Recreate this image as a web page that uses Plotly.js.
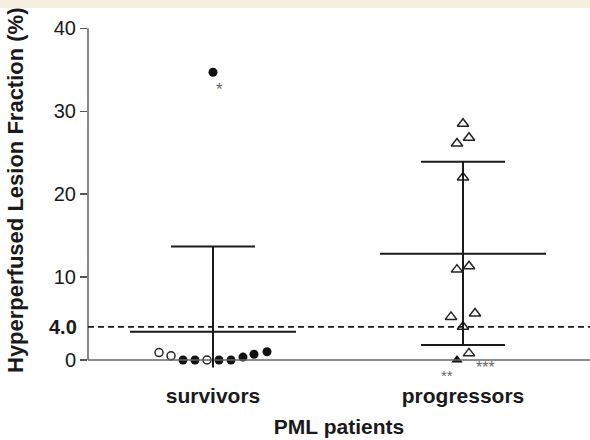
<!DOCTYPE html>
<html>
<head>
<meta charset="utf-8">
<script src="https://cdn.plot.ly/plotly-3.0.1.min.js"></script>
<style>
  html, body { margin: 0; padding: 0; background: #ffffff; }
  #band { position: absolute; left: 0; top: 0; width: 590px; height: 8px; background: #f5f0e1; z-index: 10; }
  #chart { width: 590px; height: 440px; }
</style>
</head>
<body>
<div id="band"></div>
<div id="chart"></div>
<script>
// ---- data ----
var groups = ["survivors", "progressors"];
var groupPos = [1, 2];

// survivors: filled circles (offset within group, value %)
var survFilledOffset = [-0.12, -0.072, 0.024, 0.072, 0.12, 0.164, 0.216, 0];
var survFilledValue  = [0, 0, 0, 0, 0.35, 0.7, 1.0, 34.7];
// survivors: open circles
var survOpenOffset = [-0.216, -0.168, -0.024];
var survOpenValue  = [0.9, 0.5, 0.0];

// progressors: open triangles
var progOpenOffset = [0, 0.024, -0.024, 0, -0.024, 0.024, -0.048, 0.048, 0, 0.024];
var progOpenValue  = [28.5, 26.8, 26.1, 22.0, 10.9, 11.3, 5.2, 5.6, 4.0, 0.8];
// progressors: filled triangle
var progFilledOffset = [-0.024];
var progFilledValue  = [0.0];

// group summary lines (mean, upper SD, lower SD)
var groupMean  = [3.4, 12.8];
var groupUpper = [13.7, 23.9];
var groupLower = [-0.9, 1.8];
var showLowerCap = [false, true];

var threshold = 4.0;
var yTicks = [0, 10, 20, 30, 40];

// ---- build ----
function place(center, offsets) { return offsets.map(function (o) { return center + o; }); }

var traces = [
  {
    type: "scatter", mode: "markers",
    x: place(groupPos[0], survOpenOffset), y: survOpenValue,
    marker: { symbol: "circle-open", size: 8, color: "#222", line: { width: 1.5, color: "#222" } },
    hoverinfo: "y", showlegend: false, cliponaxis: false
  },
  {
    type: "scatter", mode: "markers",
    x: place(groupPos[0], survFilledOffset), y: survFilledValue,
    marker: { symbol: "circle", size: 9, color: "#111" },
    hoverinfo: "y", showlegend: false, cliponaxis: false
  },
  {
    type: "scatter", mode: "markers",
    x: place(groupPos[1], progOpenOffset), y: progOpenValue,
    marker: { symbol: "triangle-up-open", size: 10, color: "#222", line: { width: 1.5, color: "#222" } },
    hoverinfo: "y", showlegend: false, cliponaxis: false
  },
  {
    type: "scatter", mode: "markers",
    x: place(groupPos[1], progFilledOffset), y: progFilledValue,
    marker: { symbol: "triangle-up", size: 10, color: "#111" },
    hoverinfo: "y", showlegend: false, cliponaxis: false
  }
];

var lineStyle = { color: "#1a1a1a", width: 2 };
var meanHalf = 0.332, capHalf = 0.168;
var shapes = [];

// y axis line (0..40), x axis line, threshold dashed line
shapes.push({ type: "line", xref: "paper", yref: "y", x0: 0, x1: 0, y0: yTicks[0], y1: yTicks[yTicks.length - 1], line: { color: "#555", width: 1.4 } });
shapes.push({ type: "line", xref: "paper", yref: "y", x0: 0, x1: 1, y0: 0, y1: 0, line: { color: "#666", width: 1.4 } });
shapes.push({ type: "line", xref: "paper", yref: "y", x0: 0, x1: 1, y0: threshold, y1: threshold, line: { color: "#1a1a1a", width: 1.8, dash: "6px,4px" } });

for (var i = 0; i < groups.length; i++) {
  var c = groupPos[i];
  shapes.push({ type: "line", xref: "x", yref: "y", x0: c - meanHalf, x1: c + meanHalf, y0: groupMean[i], y1: groupMean[i], line: lineStyle });
  shapes.push({ type: "line", xref: "x", yref: "y", x0: c, x1: c, y0: groupLower[i], y1: groupUpper[i], line: lineStyle });
  shapes.push({ type: "line", xref: "x", yref: "y", x0: c - capHalf, x1: c + capHalf, y0: groupUpper[i], y1: groupUpper[i], line: lineStyle });
  if (showLowerCap[i]) {
    shapes.push({ type: "line", xref: "x", yref: "y", x0: c - capHalf, x1: c + capHalf, y0: groupLower[i], y1: groupLower[i], line: lineStyle });
  }
}

var font = "Liberation Sans, Arial, sans-serif";
var annotations = [
  { xref: "paper", yref: "y", x: 0, y: threshold, xanchor: "right", yanchor: "middle", xshift: -9, text: "<b>4.0</b>", showarrow: false, font: { family: font, size: 20, color: "#1a1a1a" } },
  { xref: "x", yref: "y", x: groupPos[0] + 0.024, y: 32.6, text: "*", showarrow: false, font: { family: font, size: 17, color: "#666" } },
  { xref: "x", yref: "y", x: groupPos[1] + 0.088, y: 0, yshift: -7, text: "***", showarrow: false, font: { family: font, size: 16, color: "#666" } },
  { xref: "x", yref: "y", x: groupPos[1] - 0.064, y: 0, yshift: -15, text: "**", showarrow: false, font: { family: font, size: 15, color: "#666" } },
  { xref: "paper", yref: "paper", x: 0, y: 0.5, xshift: -73, xanchor: "center", yanchor: "middle", textangle: -90, text: "<b>Hyperperfused Lesion Fraction (%)</b>", showarrow: false, font: { family: font, size: 22, color: "#1a1a1a" } }
];

var layout = {
  width: 590, height: 440,
  margin: { l: 88, r: 0, t: 10, b: 70, pad: 0 },
  paper_bgcolor: "#ffffff", plot_bgcolor: "#ffffff",
  showlegend: false,
  xaxis: {
    range: [0.5, 2.508],
    tickvals: groupPos, ticktext: groups,
    ticks: "", showline: false, showgrid: false, zeroline: false,
    ticklabelstandoff: 11,
    tickfont: { family: font, size: 21, color: "#1a1a1a", weight: "bold" },
    title: { text: "PML patients", font: { family: font, size: 21, color: "#1a1a1a", weight: "bold" }, standoff: 13 },
    fixedrange: true
  },
  yaxis: {
    range: [-1.206, 42.21],
    tickvals: yTicks,
    ticks: "outside", ticklen: 7, tickwidth: 1.4, tickcolor: "#555",
    showline: false, showgrid: false, zeroline: false,
    tickfont: { family: font, size: 20, color: "#1a1a1a" },
    fixedrange: true
  },
  shapes: shapes,
  annotations: annotations
};

Plotly.newPlot("chart", traces, layout, { displayModeBar: false, staticPlot: true });
</script>
</body>
</html>
